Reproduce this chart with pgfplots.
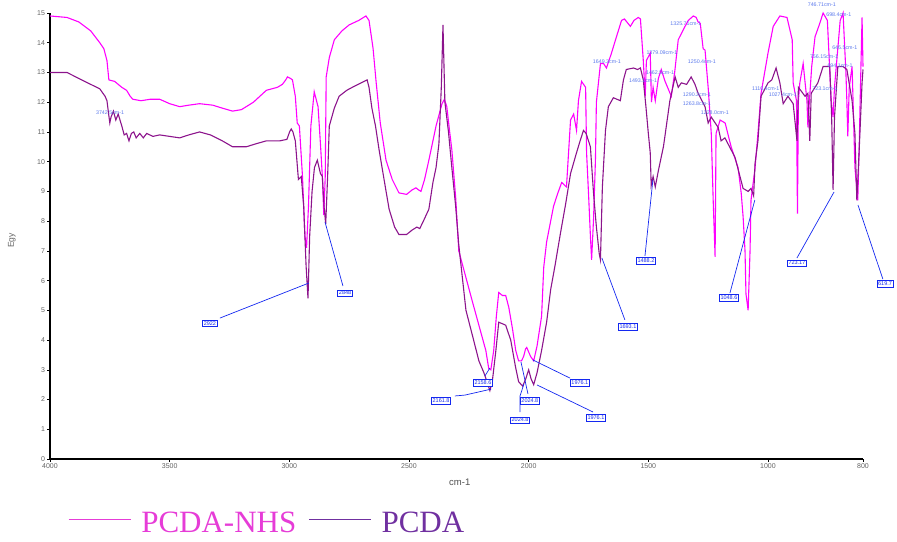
\documentclass[border=0pt]{standalone}
\usepackage{pgfplots}
\pgfplotsset{compat=1.18}
\usepackage{pgfplotstable}
\usepackage{fontspec}
\setmainfont{Liberation Sans}
\newfontfamily\legendfont{Liberation Serif}
\definecolor{nhs}{RGB}{255,0,255}
\definecolor{pcda}{RGB}{140,20,140}
\definecolor{nhsleg}{RGB}{230,60,215}
\definecolor{pcdaleg}{RGB}{112,48,160}
\definecolor{annot}{RGB}{20,40,240}
\definecolor{annotlt}{RGB}{90,120,235}
\definecolor{tickgray}{RGB}{100,100,100}

% wavenumber (cm-1) and Egy
\pgfplotstableread{
w y
4000 14.9
3929 14.85
3880 14.7
3830 14.4
3792 14.0
3775 13.8
3762 13.4
3754 12.75
3730 12.7
3700 12.5
3680 12.4
3665 12.2
3654 12.1
3620 12.05
3580 12.1
3542 12.1
3500 11.95
3458 11.85
3420 11.9
3375 11.95
3320 11.9
3280 11.8
3237 11.7
3200 11.75
3150 12.0
3096 12.4
3050 12.5
3029 12.6
3015 12.75
3008 12.85
2995 12.8
2987 12.75
2975 12.2
2967 11.3
2958 11.2
2945 9.5
2935 7.5
2928 7.1
2920 8.5
2910 11.2
2896 12.35
2880 11.85
2870 10.6
2862 9.5
2856 8.2
2850 9.5
2846 12.85
2833 13.5
2812 14.1
2780 14.4
2750 14.6
2710 14.75
2680 14.9
2667 14.75
2650 13.8
2637 12.65
2620 11.3
2596 10.05
2570 9.4
2542 8.95
2510 8.9
2487 9.05
2471 9.12
2460 9.05
2450 9.0
2435 9.4
2417 10.05
2400 10.7
2387 11.2
2362 11.95
2352 12.1
2342 11.85
2330 11.0
2321 10.4
2305 8.8
2292 7.0
2262 6.1
2237 5.35
2208 4.5
2179 3.65
2167 3.05
2158 3.0
2146 3.65
2135 4.8
2125 5.6
2110 5.5
2096 5.5
2083 5.1
2068 4.4
2054 3.65
2042 3.3
2030 3.3
2021 3.45
2013 3.7
2008 3.75
2000 3.6
1992 3.45
1979 3.3
1965 3.8
1946 4.8
1937 6.45
1925 7.3
1896 8.5
1880 8.9
1862 9.3
1842 9.15
1825 11.4
1812 11.6
1800 11.05
1792 12.05
1779 12.7
1762 12.5
1758 10.3
1750 8.95
1742 7.5
1737 6.7
1729 8.05
1721 10.05
1717 12.0
1700 13.3
1687 13.3
1675 13.15
1654 13.65
1637 14.1
1612 14.75
1600 14.8
1575 14.55
1560 14.75
1542 14.85
1533 14.8
1521 13.4
1513 12.2
1508 13.4
1492 13.65
1487 12.0
1480 12.5
1471 12.05
1458 12.8
1446 13.1
1430 12.7
1404 12.2
1390 13.0
1375 14.1
1350 14.5
1333 14.75
1312 14.9
1300 14.85
1292 14.7
1283 14.65
1271 13.8
1263 13.75
1250 12.5
1237 10.95
1229 8.7
1221 6.8
1217 10.95
1200 11.4
1179 11.3
1154 10.5
1125 9.8
1112 8.95
1104 8.15
1096 7.0
1092 5.55
1083 5.0
1075 7.0
1071 8.7
1054 9.8
1042 10.95
1029 12.3
1000 13.65
989 14.55
975 14.9
960 14.85
949 14.1
947 12.65
940 12.05
938 8.25
936 12.05
933 12.65
926 13.3
918 12.05
916 11.15
913 12.0
908 13.2
901 14.2
891 14.65
884 15.0
875 14.75
867 12.05
863 11.5
860 12.5
848 14.75
842 15.0
836 13.0
834 12.05
832 10.85
829 12.5
823 13.2
817 9.8
811 8.7
808 10.5
806 12.05
802 14.85
800 13.2
}\nhsdata

\pgfplotstableread{
w y
4000 13.0
3929 13.0
3880 12.8
3830 12.6
3792 12.45
3770 12.2
3762 12.05
3755 11.6
3750 11.3
3745 11.5
3735 11.7
3725 11.4
3715 11.6
3700 11.2
3690 10.9
3680 10.95
3670 10.7
3660 10.95
3650 11.0
3640 10.8
3625 10.95
3610 10.8
3596 10.95
3570 10.85
3542 10.9
3500 10.85
3458 10.8
3420 10.9
3375 11.0
3330 10.9
3280 10.7
3237 10.5
3180 10.5
3140 10.6
3096 10.7
3040 10.7
3010 10.75
2999 11.0
2992 11.1
2985 11.0
2975 10.7
2962 9.4
2950 9.5
2940 8.5
2930 6.5
2922 5.4
2915 7.5
2905 9.0
2895 9.8
2883 10.05
2870 9.6
2862 9.5
2855 8.5
2848 7.9
2840 9.5
2833 11.2
2812 11.8
2792 12.2
2760 12.4
2737 12.5
2700 12.65
2675 12.75
2667 12.5
2655 11.8
2640 11.2
2625 10.4
2600 9.2
2583 8.4
2560 7.8
2542 7.55
2510 7.55
2487 7.7
2467 7.8
2455 7.75
2440 8.0
2417 8.4
2400 9.3
2387 9.8
2375 10.6
2365 12.5
2358 14.6
2350 12.0
2335 11.0
2321 9.8
2305 8.5
2292 7.2
2262 5.0
2230 4.0
2208 3.3
2187 2.9
2170 2.5
2162 2.3
2152 2.6
2137 3.65
2125 4.6
2110 4.55
2096 4.5
2075 4.0
2055 3.1
2042 2.6
2025 2.45
2012 2.7
2000 3.0
1990 2.7
1979 2.5
1965 2.9
1946 3.65
1925 4.6
1908 5.7
1890 6.5
1867 7.6
1845 8.6
1825 9.6
1800 10.3
1785 10.7
1771 11.05
1760 10.95
1742 10.5
1729 8.95
1717 7.8
1705 6.9
1700 6.7
1692 9.15
1679 11.05
1667 11.85
1646 12.15
1617 12.05
1604 12.75
1592 13.1
1562 13.15
1545 13.1
1533 13.15
1521 12.75
1510 11.85
1500 10.95
1492 10.3
1488 9.2
1480 9.5
1471 9.15
1458 9.7
1437 10.5
1429 10.95
1410 12.05
1388 12.85
1375 12.5
1362 12.65
1340 12.6
1321 12.85
1305 12.6
1292 12.3
1263 11.85
1250 11.3
1237 11.5
1208 11.15
1196 10.7
1180 10.8
1167 10.6
1138 10.15
1117 9.5
1104 9.1
1083 9.0
1071 9.1
1060 8.85
1054 9.95
1042 10.7
1029 12.2
1000 12.65
992 12.75
983 13.15
975 12.65
968 11.95
958 12.2
947 11.95
939 10.7
936 12.5
922 12.2
916 12.3
912 10.7
909 12.3
895 12.65
884 13.2
870 13.2
866 11.5
863 9.05
860 11.5
853 13.2
842 13.2
834 13.1
823 12.05
817 10.95
813 8.7
808 10.4
802 12.65
800 13.1
}\pcdadata

\tikzset{boxlab/.style={draw=annot, line width=0.8pt, fill=white, text=annot, font=\fontsize{5.5}{6}\selectfont, inner sep=1.2pt},
  smalllab/.style={text=annotlt, font=\fontsize{5.3}{5.5}\selectfont, inner sep=0pt},
  leader/.style={annot, line width=0.7pt}}

\begin{document}
\begin{tikzpicture}
\path[use as bounding box] (-50pt,-82pt) rectangle (847pt,459pt);
\begin{axis}[
  at={(0pt,0pt)}, anchor=south west,
  scale only axis, width=813pt, height=446pt,
  xmin=0, xmax=3397, ymin=0, ymax=15,
  axis lines=left, axis line style={-, line width=1.1pt, black},
  xtick={0,500,1000,1500,2000,2500,3000,3397},
  xticklabels={4000,3500,3000,2500,2000,1500,1000,800},
  ytick={0,1,...,15},
  /pgf/number format/assume math mode=true,
  tick style={black, line width=0.6pt},
  tick align=outside, major tick length=2.5pt,
  ticklabel style={font=\fontsize{7}{8}\selectfont, text=tickgray},
  xticklabel style={yshift=1pt},
  yticklabel style={xshift=1pt},
  xlabel={cm-1}, ylabel={Egy},
  every axis x label/.style={at={(axis description cs:0.504,-0.052)}, anchor=center, font=\fontsize{9.5}{10}\selectfont, text=tickgray!80!black},
  every axis y label/.style={at={(axis description cs:-0.047,0.49)}, anchor=center, rotate=90, font=\fontsize{8.5}{9}\selectfont, text=tickgray},
  clip=false,
  legend style={at={(axis description cs:0.022,-0.141)}, anchor=west, draw=none, fill=none, inner sep=0pt,
    font=\legendfont\fontsize{31}{31}\selectfont,
    /tikz/every even column/.append style={column sep=0pt},
    nodes={inner sep=0pt, text depth=0pt}},
  legend columns=2,
  legend cell align=left,
  legend image code/.code={\draw[#1] (0pt,0.24em) -- (62pt,0.24em);},
]
\addplot[nhs, line width=1.1pt, forget plot] table[x expr={4000-\thisrow{w}+0.985*max(0,1000-\thisrow{w})}, y=y] {\nhsdata};
\addplot[pcda, line width=1.1pt, forget plot] table[x expr={4000-\thisrow{w}+0.985*max(0,1000-\thisrow{w})}, y=y] {\pcdadata};
\addlegendimage{nhsleg, line width=1.2pt}
\addlegendentry{\hspace*{10pt}\textcolor{nhsleg}{PCDA-NHS}\hspace*{12pt}}
\addlegendimage{pcdaleg, line width=1.2pt}
\addlegendentry{\hspace*{10pt}\textcolor{pcdaleg}{PCDA}}

% boxed peak labels with leader lines
\draw[leader] (axis cs:710,4.74) -- (axis cs:1082,5.92);
\node[boxlab] at (axis cs:668,4.57) {2922};
\draw[leader] (axis cs:1224,5.82) -- (axis cs:1149,7.97);
\node[boxlab] at (axis cs:1233,5.58) {2848};
\draw[leader] (axis cs:1817,2.79) -- (axis cs:1838,3.06);
\node[boxlab] at (axis cs:1809,2.56) {2158.6};
\draw[leader] (axis cs:1692,2.12) -- (axis cs:1734,2.15) -- (axis cs:1843,2.35);
\node[boxlab] at (axis cs:1634,1.95) {2161.8};
\draw[leader] (axis cs:1997,2.19) -- (axis cs:1968,3.26);
\node[boxlab] at (axis cs:2005,1.95) {2024.8};
\draw[leader] (axis cs:1964,1.58) -- (axis cs:1964,2.12) -- (axis cs:1980,2.52);
\node[boxlab] at (axis cs:1964,1.31) {2024.8};
\draw[leader] (axis cs:2173,2.72) -- (axis cs:2018,3.33);
\node[boxlab] at (axis cs:2214,2.56) {1976.1};
\draw[leader] (axis cs:2269,1.58) -- (axis cs:2035,2.49);
\node[boxlab] at (axis cs:2281,1.38) {1976.1};
\draw[leader] (axis cs:2402,4.68) -- (axis cs:2306,6.76);
\node[boxlab] at (axis cs:2415,4.44) {1693.1};
\draw[leader] (axis cs:2486,6.83) -- (axis cs:2519,9.38);
\node[boxlab] at (axis cs:2490,6.66) {1488.2};
\draw[leader] (axis cs:2841,5.58) -- (axis cs:2945,8.71);
\node[boxlab] at (axis cs:2837,5.42) {1048.6};
\draw[leader] (axis cs:3121,6.76) -- (axis cs:3276,8.98);
\node[boxlab] at (axis cs:3121,6.59) {723.17};
\draw[leader] (axis cs:3480,6.05) -- (axis cs:3376,8.54);
\node[boxlab] at (axis cs:3489,5.89) {619.7};

% small peak labels
\node[smalllab] at (axis cs:251,11.64) {3742.5cm-1};
\node[smalllab] at (axis cs:2327,13.35) {1649.3cm-1};
\node[smalllab] at (axis cs:2557,13.65) {1379.09cm-1};
\node[smalllab] at (axis cs:2657,14.63) {1325.71cm-1};
\node[smalllab] at (axis cs:2724,13.35) {1250.4cm-1};
\node[smalllab] at (axis cs:2549,13.0) {1462.5cm-1};
\node[smalllab] at (axis cs:2478,12.71) {1493.1cm-1};
\node[smalllab] at (axis cs:2703,12.24) {1290.2cm-1};
\node[smalllab] at (axis cs:2703,11.94) {1263.8cm-1};
\node[smalllab] at (axis cs:2778,11.64) {1228.0cm-1};
\node[smalllab] at (axis cs:2991,12.44) {1110.4cm-1};
\node[smalllab] at (axis cs:3062,12.24) {1027.4cm-1};
\node[smalllab] at (axis cs:3225,15.27) {746.71cm-1};
\node[smalllab] at (axis cs:3296,14.93) {698.4cm-1};
\node[smalllab] at (axis cs:3321,13.82) {646.5cm-1};
\node[smalllab] at (axis cs:3234,13.52) {756.15cm-1};
\node[smalllab] at (axis cs:3301,13.22) {694.1cm-1};
\node[smalllab] at (axis cs:3238,12.44) {723.1cm-1};
\end{axis}
\end{tikzpicture}
\end{document}
